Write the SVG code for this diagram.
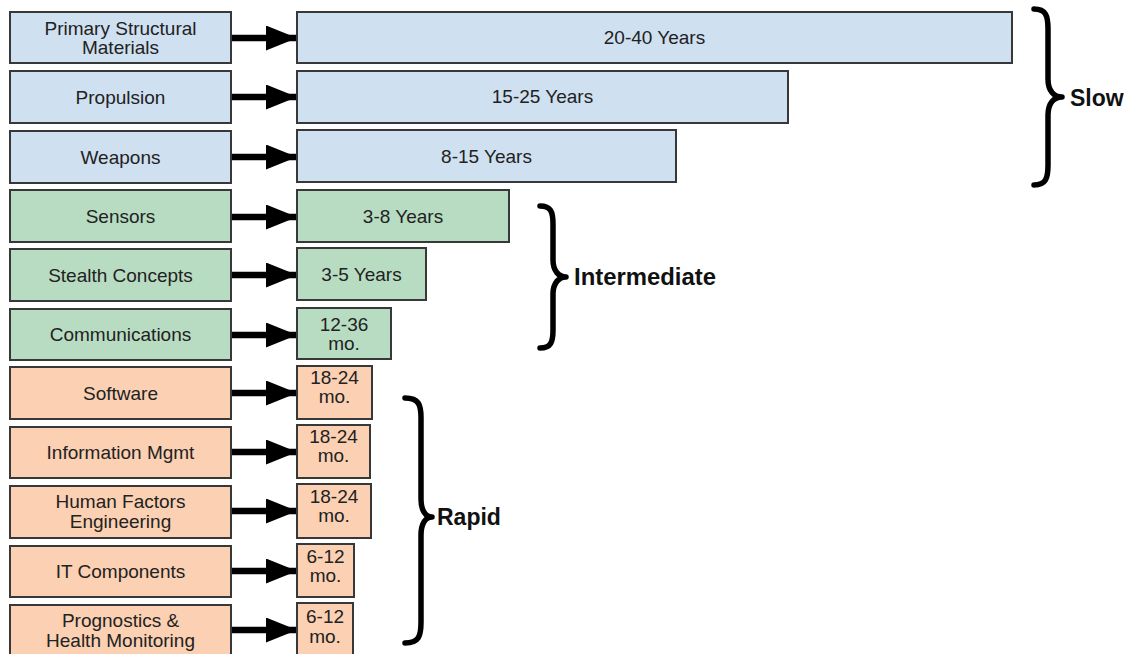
<svg xmlns="http://www.w3.org/2000/svg" width="1127" height="654" viewBox="0 0 1127 654">
<style>
.box{stroke:#383838;stroke-width:2}
.slow{fill:#cfe0f1}
.mid{fill:#b8dcc2}
.rap{fill:#fbd0b3}
text{font-family:"Liberation Sans",Arial,sans-serif;font-size:19px;fill:#222;text-anchor:middle}
.lbl{font-weight:bold;font-size:23px;fill:#111;text-anchor:start}
.arr{stroke:#000;stroke-width:6.5;fill:none;marker-end:url(#ah)}
.brace{stroke:#000;stroke-width:5.5;fill:none;stroke-linecap:round;stroke-linejoin:round}
</style>
<defs>
<marker id="ah" markerUnits="userSpaceOnUse" markerWidth="31" markerHeight="25" viewBox="0 0 31 25" refX="31" refY="12.5" orient="auto">
<path d="M0,0 L31,12.5 L0,25 Z" fill="#000"/>
</marker>
</defs>
<rect width="1127" height="654" fill="#fff"/>

<g id="connectors">
<line class="arr" x1="231" y1="38" x2="297" y2="38"/>
<line class="arr" x1="231" y1="97" x2="297" y2="97"/>
<line class="arr" x1="231" y1="157" x2="297" y2="157"/>
<line class="arr" x1="231" y1="217" x2="297" y2="217"/>
<line class="arr" x1="231" y1="275" x2="297" y2="275"/>
<line class="arr" x1="231" y1="335" x2="297" y2="335"/>
<line class="arr" x1="231" y1="393" x2="297" y2="393"/>
<line class="arr" x1="231" y1="452" x2="297" y2="452"/>
<line class="arr" x1="231" y1="511" x2="297" y2="511"/>
<line class="arr" x1="231" y1="571" x2="297" y2="571"/>
<line class="arr" x1="231" y1="630" x2="297" y2="630"/>
</g>

<g id="n-primary"><rect class="box slow" x="10" y="12" width="221" height="51"/><text x="120.5" y="35">Primary Structural</text><text x="120.5" y="54">Materials</text></g>
<g id="n-propulsion"><rect class="box slow" x="10" y="71" width="221" height="52"/><text x="120.5" y="104">Propulsion</text></g>
<g id="n-weapons"><rect class="box slow" x="10" y="131" width="221" height="52"/><text x="120.5" y="164">Weapons</text></g>
<g id="n-sensors"><rect class="box mid" x="10" y="190" width="221" height="52"/><text x="120.5" y="223">Sensors</text></g>
<g id="n-stealth"><rect class="box mid" x="10" y="249" width="221" height="52"/><text x="120.5" y="282">Stealth Concepts</text></g>
<g id="n-comm"><rect class="box mid" x="10" y="309" width="221" height="51"/><text x="120.5" y="341">Communications</text></g>
<g id="n-software"><rect class="box rap" x="10" y="367" width="221" height="52"/><text x="120.5" y="400">Software</text></g>
<g id="n-info"><rect class="box rap" x="10" y="427" width="221" height="51"/><text x="120.5" y="459">Information Mgmt</text></g>
<g id="n-human"><rect class="box rap" x="10" y="486" width="221" height="52"/><text x="120.5" y="508">Human Factors</text><text x="120.5" y="528">Engineering</text></g>
<g id="n-it"><rect class="box rap" x="10" y="546" width="221" height="51"/><text x="120.5" y="578">IT Components</text></g>
<g id="n-prog"><rect class="box rap" x="10" y="605" width="221" height="54"/><text x="120.5" y="627">Prognostics &amp;</text><text x="120.5" y="647">Health Monitoring</text></g>

<g id="t-primary"><rect class="box slow" x="297" y="12" width="715" height="51"/><text x="654.5" y="44">20-40 Years</text></g>
<g id="t-propulsion"><rect class="box slow" x="297" y="71" width="491" height="52"/><text x="542.5" y="103">15-25 Years</text></g>
<g id="t-weapons"><rect class="box slow" x="297" y="130" width="379" height="52"/><text x="486.5" y="163">8-15 Years</text></g>
<g id="t-sensors"><rect class="box mid" x="297" y="190" width="212" height="52"/><text x="403" y="223">3-8 Years</text></g>
<g id="t-stealth"><rect class="box mid" x="297" y="248" width="129" height="52"/><text x="361.5" y="281">3-5 Years</text></g>
<g id="t-comm"><rect class="box mid" x="297" y="308" width="94" height="51"/><text x="344" y="331">12-36</text><text x="344" y="350">mo.</text></g>
<g id="t-software"><rect class="box rap" x="297" y="366" width="75" height="53"/><text x="334.5" y="384">18-24</text><text x="334.5" y="403">mo.</text></g>
<g id="t-info"><rect class="box rap" x="297" y="425" width="73" height="53"/><text x="333.5" y="443">18-24</text><text x="333.5" y="462">mo.</text></g>
<g id="t-human"><rect class="box rap" x="297" y="484" width="74" height="54"/><text x="334" y="503">18-24</text><text x="334" y="522">mo.</text></g>
<g id="t-it"><rect class="box rap" x="297" y="544" width="57" height="53"/><text x="325.5" y="563">6-12</text><text x="325.5" y="582">mo.</text></g>
<g id="t-prog"><rect class="box rap" x="297" y="603" width="56" height="56"/><text x="325" y="623">6-12</text><text x="325" y="643">mo.</text></g>

<g id="g-slow">
<path class="brace" d="M1034,9 C1046,9 1048,16 1048,29 L1048,79 C1048,91 1054,97 1062,97 C1054,97 1048,103 1048,115 L1048,165 C1048,178 1046,185 1034,185"/>
<text class="lbl" x="1070" y="106">Slow</text>
</g>
<g id="g-intermediate">
<path class="brace" d="M540,206 C551,206 553,212 553,224 L553,260 C553,271 559,277 566,277 C559,277 553,283 553,294 L553,330 C553,342 551,348 540,348"/>
<text class="lbl" x="574" y="285" textLength="142" lengthAdjust="spacingAndGlyphs">Intermediate</text>
</g>
<g id="g-rapid">
<path class="brace" d="M405,398 C419,398 421,405 421,418 L421,499 C421,511 426,517 432,517 C426,517 421,523 421,535 L421,622 C421,636 419,643 405,643"/>
<text class="lbl" x="437" y="525">Rapid</text>
</g>
</svg>
